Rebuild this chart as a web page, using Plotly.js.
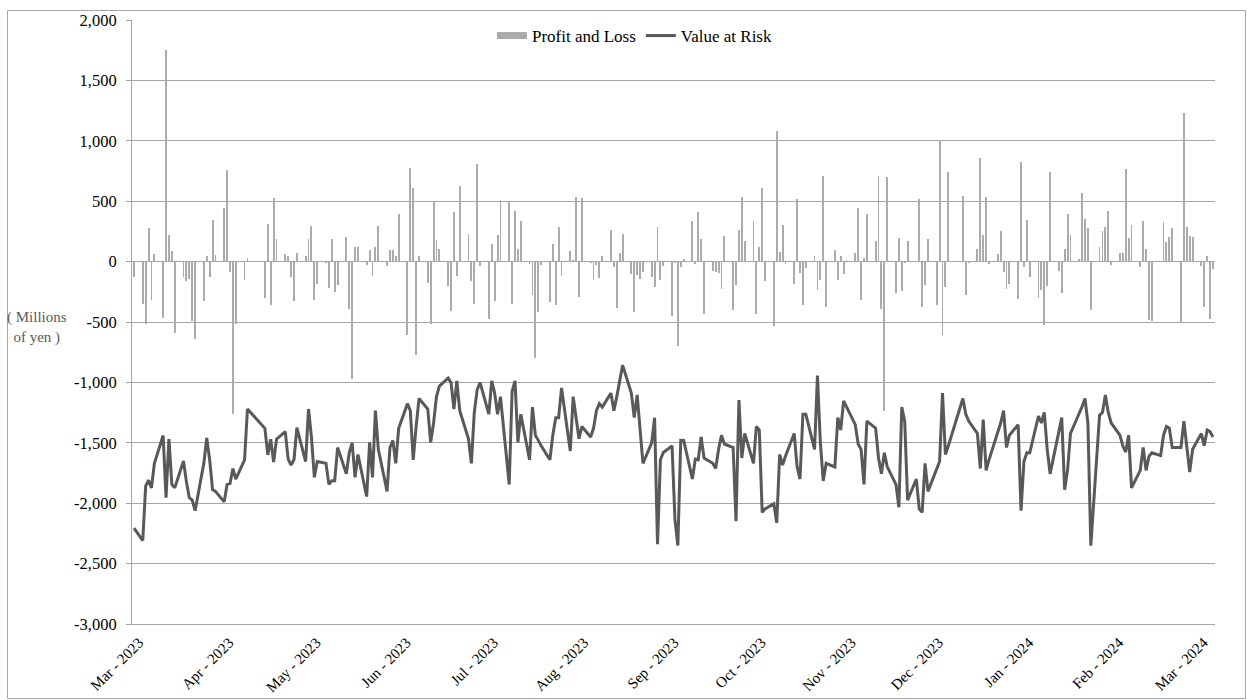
<!DOCTYPE html>
<html><head><meta charset="utf-8">
<script src="https://cdn.plot.ly/plotly-3.0.1.min.js"></script>
<style>html,body{margin:0;padding:0;background:#fff;} #chart{width:1247px;height:700px;}</style>
</head><body><div id="chart"></div>
<script>
const dates = [
'2023-03-03',
'2023-03-06','2023-03-07','2023-03-08','2023-03-09','2023-03-10',
'2023-03-13','2023-03-14','2023-03-15','2023-03-16','2023-03-17',
'2023-03-20','2023-03-21','2023-03-22','2023-03-23','2023-03-24',
'2023-03-27','2023-03-28','2023-03-29','2023-03-30','2023-03-31',
'2023-04-03','2023-04-04','2023-04-05','2023-04-06','2023-04-07',
'2023-04-10','2023-04-11',
'2023-04-17','2023-04-18','2023-04-19','2023-04-20','2023-04-21',
'2023-04-24','2023-04-25','2023-04-26','2023-04-27','2023-04-28',
'2023-05-01','2023-05-02','2023-05-03','2023-05-04','2023-05-05',
'2023-05-08','2023-05-09','2023-05-10','2023-05-11','2023-05-12',
'2023-05-15','2023-05-16','2023-05-17','2023-05-18','2023-05-19',
'2023-05-22','2023-05-23','2023-05-24','2023-05-25','2023-05-26',
'2023-05-29','2023-05-30','2023-05-31','2023-06-01','2023-06-02',
'2023-06-05','2023-06-06','2023-06-07','2023-06-08','2023-06-09',
'2023-06-12','2023-06-13','2023-06-14','2023-06-15','2023-06-16',
'2023-06-19','2023-06-20','2023-06-21','2023-06-22','2023-06-23',
'2023-06-26','2023-06-27','2023-06-28','2023-06-29','2023-06-30',
'2023-07-03','2023-07-04','2023-07-05','2023-07-06','2023-07-07',
'2023-07-10','2023-07-11','2023-07-12','2023-07-13','2023-07-14',
'2023-07-17','2023-07-18','2023-07-19','2023-07-20','2023-07-21',
'2023-07-24','2023-07-25','2023-07-26','2023-07-27','2023-07-28',
'2023-07-31','2023-08-01','2023-08-02','2023-08-03','2023-08-04',
'2023-08-07','2023-08-08','2023-08-09','2023-08-10','2023-08-11',
'2023-08-14','2023-08-15','2023-08-16','2023-08-17','2023-08-18',
'2023-08-21','2023-08-22','2023-08-23','2023-08-24','2023-08-25',
'2023-08-28','2023-08-29','2023-08-30','2023-08-31','2023-09-01',
'2023-09-04','2023-09-05','2023-09-06','2023-09-07','2023-09-08',
'2023-09-11','2023-09-12','2023-09-13','2023-09-14','2023-09-15',
'2023-09-18','2023-09-19','2023-09-20','2023-09-21','2023-09-22',
'2023-09-25','2023-09-26','2023-09-27','2023-09-28','2023-09-29',
'2023-10-02','2023-10-03','2023-10-04','2023-10-05','2023-10-06',
'2023-10-09','2023-10-10','2023-10-11','2023-10-12','2023-10-13',
'2023-10-16','2023-10-17','2023-10-18','2023-10-19','2023-10-20',
'2023-10-23','2023-10-24','2023-10-25','2023-10-26','2023-10-27',
'2023-10-30','2023-10-31','2023-11-01','2023-11-02','2023-11-03',
'2023-11-06','2023-11-07','2023-11-08','2023-11-09','2023-11-10',
'2023-11-13','2023-11-14','2023-11-15','2023-11-16','2023-11-17',
'2023-11-20','2023-11-21','2023-11-22','2023-11-23','2023-11-24',
'2023-11-27','2023-11-28','2023-11-29','2023-11-30','2023-12-01',
'2023-12-04','2023-12-05','2023-12-06','2023-12-07','2023-12-08',
'2023-12-13','2023-12-14','2023-12-15',
'2023-12-18','2023-12-19','2023-12-20','2023-12-21','2023-12-22',
'2023-12-25','2023-12-26','2023-12-27','2023-12-28','2023-12-29',
'2024-01-01','2024-01-02','2024-01-03','2024-01-04','2024-01-05',
'2024-01-08','2024-01-09','2024-01-10','2024-01-11','2024-01-12',
'2024-01-15','2024-01-16','2024-01-17','2024-01-18','2024-01-19',
'2024-01-22','2024-01-23','2024-01-24','2024-01-25','2024-01-26',
'2024-01-29','2024-01-30','2024-01-31','2024-02-01','2024-02-02',
'2024-02-05','2024-02-06','2024-02-07','2024-02-08','2024-02-09',
'2024-02-12','2024-02-13','2024-02-14','2024-02-15','2024-02-16',
'2024-02-19','2024-02-20','2024-02-21','2024-02-22','2024-02-23',
'2024-02-26','2024-02-27','2024-02-28','2024-02-29','2024-03-01',
'2024-03-04','2024-03-05','2024-03-06','2024-03-07','2024-03-08'
];

const profitLoss = [
-130,
-350,-520,280,-320,60,
-465,1750,218,87,-595,
-130,-160,-140,-495,-640,
-325,44,-125,345,58,
441,760,-87,-1260,-520,
-155,29,
-305,314,-363,528,189,
67,49,-130,-325,73,
44,189,296,-320,-183,
-15,-218,183,-253,-195,
203,-392,-973,122,122,
-29,93,-116,122,296,
-38,96,93,44,398,
-604,778,610,-770,49,
-174,-517,500,180,102,
-203,-407,412,-122,624,
232,-160,-349,804,-40,
-479,145,-328,224,514,
500,-349,421,107,334,
-20,-276,-800,-421,-30,
-334,145,-357,285,-116,
87,15,537,-296,523,
-15,-151,-30,-136,49,
261,-44,-386,73,226,
-102,-415,-110,-140,-90,
-130,-212,285,-154,-38,
-450,-15,-697,-44,20,
334,-20,412,189,-430,
-81,-90,-96,-226,212,
-400,-197,261,531,174,
334,-430,122,613,-160,
-537,1083,78,305,-20,
-183,517,-96,-363,-49,
44,-232,-154,711,-372,
96,-151,44,-102,10,
73,444,-320,29,392,
168,711,-392,-1234,703,
-256,197,-247,-10,174,
6,517,-378,-197,189,
-363,1008,-610,-212,741,
546,-276,-15,
107,857,218,531,-20,
67,256,-87,-226,-189,
-311,828,-44,343,-131,
-299,-238,-523,-203,741,
-78,-261,107,392,224,
20,572,354,276,-398,
125,256,285,421,-30,
73,70,770,197,305,
-44,334,102,-480,-494,
0,325,160,203,282,
-500,1228,290,212,203,
-40,-377,44,-473,-58
];

const valueAtRisk = [
-2207,
-2309,-1859,-1810,-1873,-1670,
-1440,-1955,-1470,-1844,-1873,
-1650,-1820,-1955,-1975,-2062,
-1670,-1460,-1640,-1888,-1902,
-1989,-1844,-1838,-1713,-1800,
-1641,-1220,
-1380,-1600,-1470,-1660,-1470,
-1408,-1635,-1684,-1640,-1374,
-1655,-1220,-1450,-1786,-1655,
-1670,-1844,-1815,-1815,-1539,
-1757,-1583,-1500,-1786,-1597,
-1945,-1496,-1786,-1234,-1554,
-1902,-1539,-1481,-1670,-1380,
-1176,-1234,-1641,-1365,-1133,
-1220,-1496,-1336,-1118,-1031,
-965,-1002,-1220,-987,-1234,
-1467,-1670,-1249,-1060,-1002,
-1263,-987,-1089,-1263,-1118,
-1844,-1075,-987,-1496,-1263,
-1641,-1205,-1437,-1480,-1525,
-1640,-1437,-1292,-1292,-1045,
-1568,-1118,-1292,-1466,-1365,
-1452,-1380,-1234,-1176,-1205,
-1089,-1234,-1118,-1002,-857,
-1089,-1292,-1104,-1420,-1670,
-1500,-1292,-2340,-1640,-1580,
-1525,-2134,-2350,-1480,-1481,
-1800,-1635,-1641,-1452,-1626,
-1670,-1713,-1554,-1437,-1510,
-1539,-2149,-1147,-1626,-1423,
-1670,-1365,-1394,-2076,-2047,
-2004,-2163,-1597,-1684,-1612,
-1423,-1699,-1800,-1263,-1263,
-1554,-944,-1500,-1815,-1670,
-1700,-1292,-1394,-1153,-1200,
-1350,-1510,-1554,-1844,-1321,
-1379,-1626,-1757,-1583,-1699,
-1844,-2033,-1205,-1321,-1975,
-1800,-2047,-2076,-1670,-1902,
-1728,-1655,-1089,-1597,-1525,
-1133,-1263,-1320,
-1423,-1713,-1307,-1728,-1640,
-1408,-1336,-1234,-1539,-1437,
-1350,-2062,-1655,-1583,-1583,
-1278,-1336,-1249,-1554,-1757,
-1420,-1292,-1888,-1728,-1423,
-1263,-1200,-1133,-1336,-2352,
-1272,-1249,-1104,-1249,-1336,
-1437,-1525,-1577,-1437,-1873,
-1728,-1539,-1728,-1612,-1583,
-1606,-1437,-1365,-1379,-1539,
-1539,-1321,-1525,-1742,-1554,
-1423,-1525,-1394,-1408,-1452
];

const seriesNames = ['Profit and Loss', 'Value at Risk'];
const yTickVals = [-3000,-2500,-2000,-1500,-1000,-500,0,500,1000,1500,2000];
const yTickText = ['-3,000','-2,500','-2,000','-1,500','-1,000','-500','0','500','1,000','1,500','2,000'];
const yUnitLabel = '( Millions<br>of yen )';

const serif = '"Liberation Serif", "Times New Roman", serif';
const DAY = 86400000;
const barColor = '#ababab';
const lineColor = '#595959';

const traces = [
  {
    type: 'bar', name: seriesNames[0], x: dates, y: profitLoss,
    width: 0.65 * DAY, showlegend: false,
    marker: {color: barColor, line: {width: 0}},
    hoverinfo: 'skip'
  },
  {
    // legend entry for the bars, drawn as a wide flat swatch like the reference
    type: 'scatter', mode: 'lines', name: seriesNames[0], x: [null], y: [null],
    line: {color: barColor, width: 7}, showlegend: true, hoverinfo: 'skip'
  },
  {
    type: 'scatter', mode: 'lines', name: seriesNames[1], x: dates, y: valueAtRisk,
    line: {color: lineColor, width: 3},
    hoverinfo: 'skip'
  }
];

const layout = {
  width: 1247, height: 700,
  margin: {l: 132, r: 32, t: 20, b: 76},
  paper_bgcolor: '#ffffff', plot_bgcolor: '#ffffff',
  font: {family: serif, size: 15, color: '#000000'},
  showlegend: true,
  legend: {
    orientation: 'h', x: 0.4644, xanchor: 'center', y: 0.9735, yanchor: 'middle',
    bgcolor: 'rgba(0,0,0,0)', font: {family: serif, size: 17, color: '#000'},
    traceorder: 'normal', itemwidth: 30, tracegroupgap: 0
  },
  bargap: 0,
  xaxis: {
    type: 'date',
    range: ['2023-03-02 07:12', '2024-03-08 16:48'],
    tick0: '2023-03-03', dtick: 'M1', tickformat: '%b - %Y',
    tickangle: -45, ticks: '', showgrid: false,
    showline: true, linecolor: '#a6a6a6', linewidth: 1,
    tickfont: {family: serif, size: 15, color: '#000'},
    ticklabelshift: 5, ticklabelstandoff: 3,
    zeroline: false, fixedrange: true
  },
  yaxis: {
    range: [-3000, 2000],
    tickvals: yTickVals, ticktext: yTickText,
    showgrid: true, gridcolor: '#a6a6a6', gridwidth: 1,
    zeroline: false,
    showline: true, linecolor: '#a6a6a6', linewidth: 1,
    ticks: 'outside', ticklen: 5, tickcolor: '#a6a6a6',
    tickfont: {family: serif, size: 16.5, color: '#000'},
    ticklabelstandoff: 6,
    fixedrange: true
  },
  annotations: [
    {
      xref: 'paper', yref: 'paper', x: -0.0877, y: 0.4901,
      xanchor: 'center', yanchor: 'middle', showarrow: false,
      text: yUnitLabel, align: 'center',
      font: {family: serif, size: 15, color: '#595959'}
    }
  ],
  shapes: [
    {
      type: 'rect', xref: 'paper', yref: 'paper',
      x0: -0.11496, x1: 1.02816, y0: -0.12334, y1: 1.01573,
      line: {color: '#a6a6a6', width: 1}, fillcolor: 'rgba(0,0,0,0)', layer: 'below'
    }
  ]
};

Plotly.newPlot('chart', traces, layout, {staticPlot: true, displayModeBar: false});
</script>
</body></html>
